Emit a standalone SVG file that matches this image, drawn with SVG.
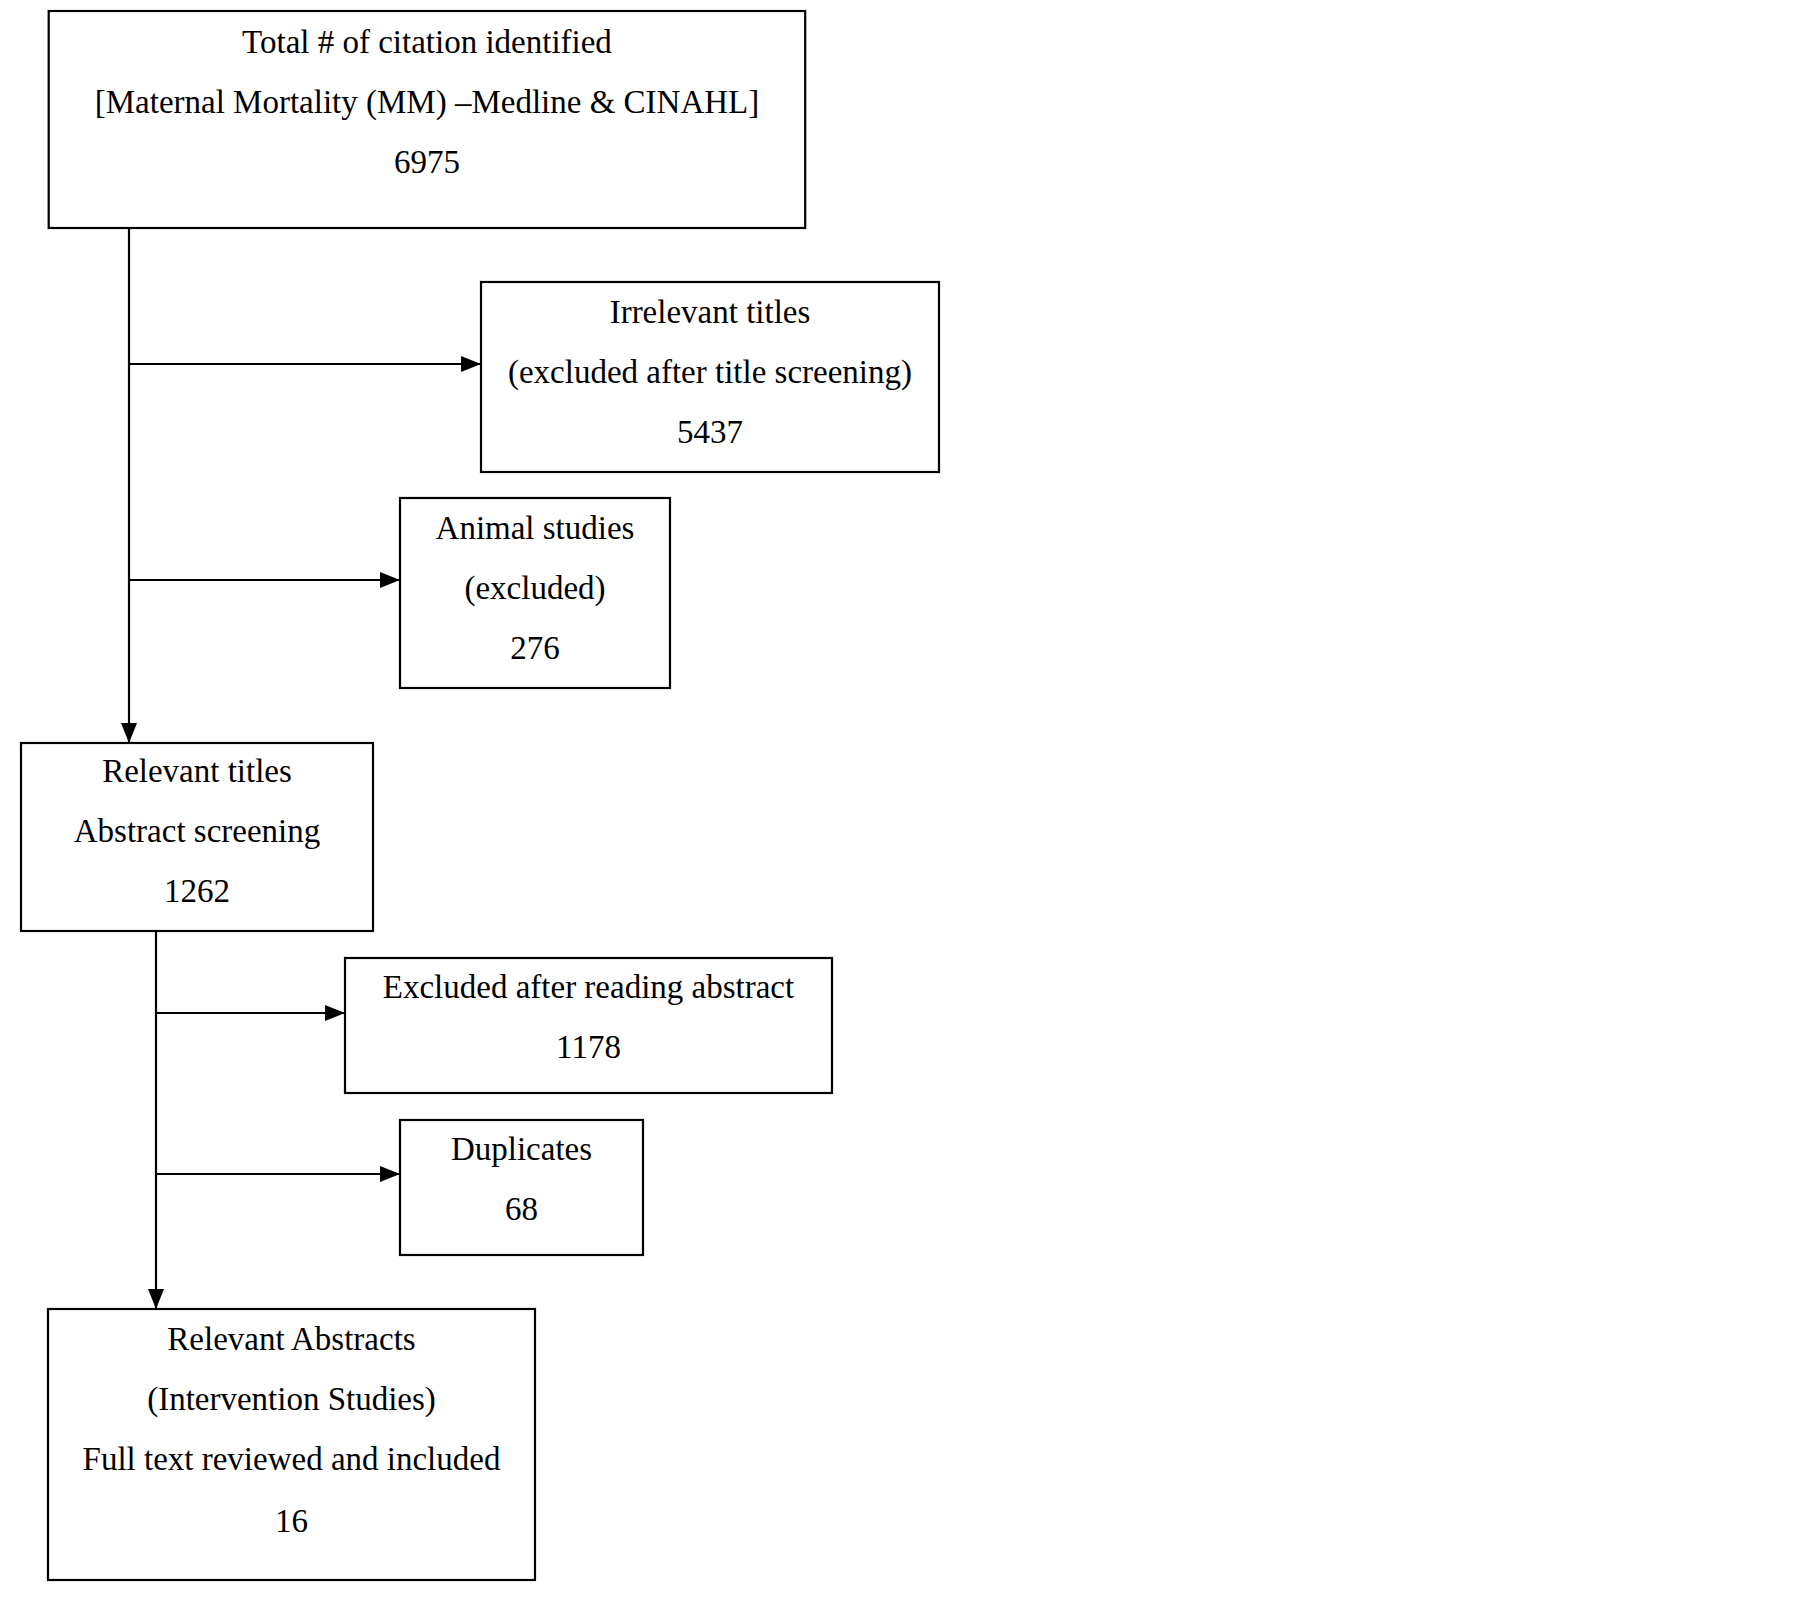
<svg xmlns="http://www.w3.org/2000/svg" width="1805" height="1598" viewBox="0 0 1805 1598">
<style>
.box{fill:#fff;stroke:#000;stroke-width:2.2}
.t{font-family:"Liberation Serif","Times New Roman",serif;font-size:33px;fill:#000;text-anchor:middle}
.ln{stroke:#000;stroke-width:2.2;fill:none}
</style>
<defs>
<marker id="ah" markerUnits="userSpaceOnUse" markerWidth="20" markerHeight="16" refX="20" refY="8" orient="auto">
<path d="M0,0 L20,8 L0,16 z" fill="#000"/>
</marker>
</defs>
<rect width="1805" height="1598" fill="#fff"/>
<g id="connectors">
<line class="ln" x1="129" y1="228" x2="129" y2="743" marker-end="url(#ah)"/>
<line class="ln" x1="129" y1="364" x2="481" y2="364" marker-end="url(#ah)"/>
<line class="ln" x1="129" y1="580" x2="400" y2="580" marker-end="url(#ah)"/>
<line class="ln" x1="156" y1="931" x2="156" y2="1309" marker-end="url(#ah)"/>
<line class="ln" x1="156" y1="1013" x2="345" y2="1013" marker-end="url(#ah)"/>
<line class="ln" x1="156" y1="1174" x2="400" y2="1174" marker-end="url(#ah)"/>
</g>
<g id="total">
<rect class="box" x="48.7" y="11" width="756.5" height="217"/>
<text class="t" x="427" y="53">Total # of citation identified</text>
<text class="t" x="427" y="113">[Maternal Mortality (MM) –Medline &amp; CINAHL]</text>
<text class="t" x="427" y="173">6975</text>
</g>
<g id="irrelevant">
<rect class="box" x="481" y="282" width="458" height="190"/>
<text class="t" x="710" y="323">Irrelevant titles</text>
<text class="t" x="710" y="383">(excluded after title screening)</text>
<text class="t" x="710" y="443">5437</text>
</g>
<g id="animal">
<rect class="box" x="400" y="498" width="270" height="190"/>
<text class="t" x="535" y="539">Animal studies</text>
<text class="t" x="535" y="599">(excluded)</text>
<text class="t" x="535" y="659">276</text>
</g>
<g id="relevant-titles">
<rect class="box" x="21" y="743" width="352" height="188"/>
<text class="t" x="197" y="782">Relevant titles</text>
<text class="t" x="197" y="842">Abstract screening</text>
<text class="t" x="197" y="902">1262</text>
</g>
<g id="excluded-abstract">
<rect class="box" x="345" y="958" width="487" height="135"/>
<text class="t" x="588.5" y="998">Excluded after reading abstract</text>
<text class="t" x="588.5" y="1058">1178</text>
</g>
<g id="duplicates">
<rect class="box" x="400" y="1120" width="243" height="135"/>
<text class="t" x="521.5" y="1160">Duplicates</text>
<text class="t" x="521.5" y="1220">68</text>
</g>
<g id="relevant-abstracts">
<rect class="box" x="48" y="1309" width="487" height="271"/>
<text class="t" x="291.5" y="1350">Relevant Abstracts</text>
<text class="t" x="291.5" y="1410">(Intervention Studies)</text>
<text class="t" x="291.5" y="1470">Full text reviewed and included</text>
<text class="t" x="291.5" y="1532">16</text>
</g>
</svg>
